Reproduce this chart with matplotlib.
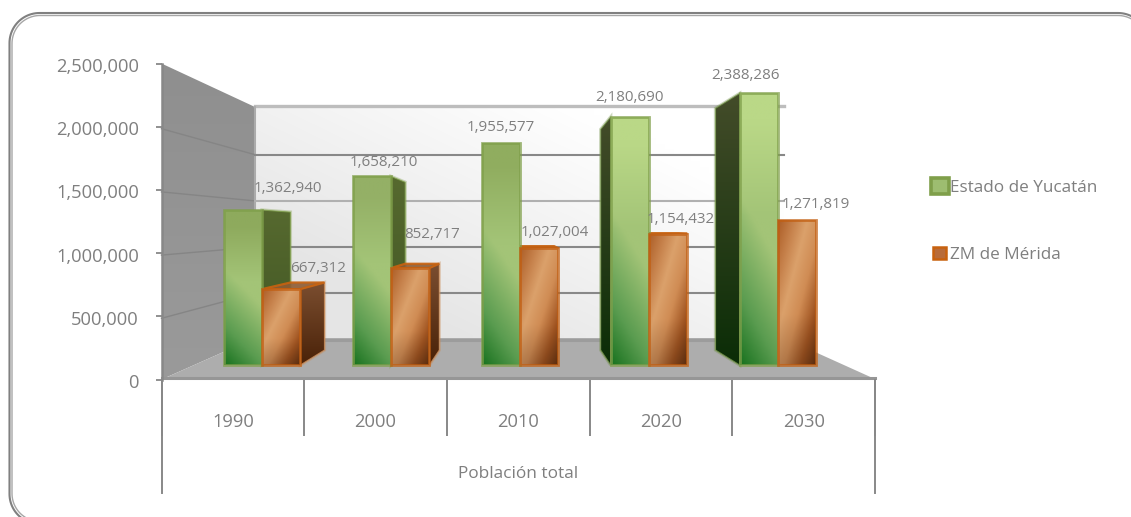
import numpy as np
import matplotlib
matplotlib.use("Agg")
import matplotlib.pyplot as plt
from matplotlib.colors import LinearSegmentedColormap as LSC, to_rgb
from matplotlib.legend_handler import HandlerPatch
from matplotlib.lines import Line2D
from matplotlib.patches import Patch, Polygon, Rectangle
from matplotlib.ticker import FuncFormatter
from matplotlib.transforms import Affine2D

# ---------- data ----------
years = ["1990", "2000", "2010", "2020", "2030"]
group_label = "Población total"
yucatan = [1362940, 1658210, 1955577, 2180690, 2388286]
merida = [667312, 852717, 1027004, 1154432, 1271819]
series_names = ["Estado de Yucatán", "ZM de Mérida"]
axis_ticks = [0, 500000, 1000000, 1500000, 2000000, 2500000]

# ---------- layout (image pixels) ----------
W, H = 1131, 517
plt.rcParams["font.family"] = ["Open Sans", "DejaVu Sans"]
TXT = "#7f7f7f"
GRID = "#888888"
PX0, PX_STEP = 262.0, 129.0       # x pixel of first category, category spacing
PY0, PY_SCALE = 365.0, 1.137e-4   # y pixel of value 0 on the bar plane, pixels per unit
BAR_W = 0.297
K = 0.11                          # depth of the bars toward the vanishing point
px = Affine2D().scale(1, -1).translate(0, H)


def X(p):
    return (p - PX0) / PX_STEP


def Y(p):
    return (PY0 - p) / PY_SCALE


VX, VY = X(520), Y(229)


def back(x, y):
    return x + K * (VX - x), y + K * (VY - y)


fig = plt.figure(figsize=(W / 100, H / 100), dpi=100, facecolor="white")
ax = fig.add_axes([0, 0, 1, 1])
ax.set_axis_off()


def fill_grad(verts, image, z):
    """Paint an RGB image over the polygon verts given in data coordinates."""
    xs, ys = zip(*verts)
    im = ax.imshow(image, extent=(min(xs), max(xs), min(ys), max(ys)), origin="upper",
                   aspect="auto", interpolation="bilinear", zorder=z)
    im.set_clip_path(Polygon(verts, closed=True, transform=ax.transData))


def vgrad(top, bottom):
    a, b = np.array(to_rgb(top)), np.array(to_rgb(bottom))
    t = np.linspace(0, 1, 40)[:, None, None]
    return a * (1 - t) + b * t


def frame_line(x0, y0, x1, y1, r):
    """Open outline of the rounded chart frame: bottom-left, top-left, top-right corners."""
    t = np.linspace(0, np.pi / 2, 24)
    xs = np.r_[x0 + r - r * np.sin(t)[::-1] * 0 - r * np.cos(t)[::-1] * 0 + 0 * t,
               ]
    bl_x = x0 + r - r * np.sin(t)
    bl_y = y1 - r + r * np.cos(t)
    tl_x = x0 + r - r * np.cos(t)
    tl_y = y0 + r - r * np.sin(t)
    tr_x = x1 - r + r * np.sin(t)
    tr_y = y0 + r - r * np.cos(t)
    return np.r_[bl_x, tl_x, tr_x], np.r_[bl_y, tl_y, tr_y]


# ---------- frame ----------
for (x0, y0, x1, y1, r, c, lw) in [(9.5, 13, 1148, 524, 30, "#808080", 1.5),
                                   (12, 15.5, 1146, 521.5, 28, "#a6a6a6", 1.0)]:
    fx, fy = frame_line(x0, y0, x1, y1, r)
    ax.add_line(Line2D(fx, fy, transform=px, color=c, lw=lw, zorder=1))

# ---------- walls and floor ----------
FL, FR, FB, FT = 161.5, 875, 379.5, 63.5   # front frame of the 3D box
BL, BR, BB, BT = 255, 784, 338, 107        # back wall
GRID_BASE, BACK_STEP = 339.5, 46.2         # back-wall pixel of 0, pixels per 500,000

fill_grad([(X(BL), Y(BT)), (X(BR), Y(BT)), (X(BR), Y(BB)), (X(BL), Y(BB))],
          (lambda u, v: (0.90 + 0.10 * np.clip(u * 0.9 + v * 0.8 - 0.35, 0, 1))[..., None].repeat(3, 2))(
              *np.meshgrid(np.linspace(0, 1, 60), np.linspace(1, 0, 40))), 2)
fill_grad([(X(FL), Y(FT)), (X(BL), Y(BT)), (X(BL), Y(BB)), (X(FL), Y(FB))],
          vgrad("#8f8f8f", "#9a9a9a"), 2)
ax.add_patch(Polygon([(X(FL), Y(FB)), (X(BL), Y(BB)), (X(BR), Y(BB)), (X(FR + 1), Y(FB))],
                     fc="#adadad", ec="none", zorder=2))
ax.add_line(Line2D([BL, BR], [BB + 1.5] * 2, transform=px, color="#9c9c9c", lw=2.2, zorder=2.2))
ax.add_line(Line2D([BL, BR], [BT - 1] * 2, transform=px, color="#bdbdbd", lw=2.4, zorder=2.2))
ax.add_line(Line2D([BL, BL], [BT, BB], transform=px, color="#ababab", lw=1.5, zorder=2.2))
ax.add_line(Line2D([FL, FR], [FB - 2] * 2, transform=px, color="#969696", lw=2.2, zorder=2.2))

for tick in axis_ticks[1:-1]:
    yb = GRID_BASE - tick / 500000 * BACK_STEP
    yf = FB - tick / axis_ticks[-1] * (FB - FT)
    ax.add_line(Line2D([FL, BL], [yf + 2, yb], transform=px, color="#858585", lw=1.0, zorder=2.3))
    shade = "#b0b0b0" if tick == 1500000 else GRID
    ax.add_line(Line2D([BL, BR], [yb, yb], transform=px, color=shade, lw=1.5, zorder=2.3))

# ---------- bars ----------
green_cm = LSC.from_list("g", [(0, "#1a7320"), (0.22, "#5a9c50"), (0.55, "#a3c477"), (1, "#a3c477")])
orange_cm = LSC.from_list("o", [(0, "#ad5f28"), (0.2, "#c6814b"), (0.38, "#dba16b"),
                                (0.58, "#d08c54"), (0.8, "#a05421"), (1, "#6a3411")])
green_tops = ["#8eaa5d", "#94b066", "#90ad5f", "#bad887", "#bad887"]


def green_image(top):
    u, v = np.meshgrid(np.linspace(0, 1, 30), np.linspace(1, 0, 90))
    img = green_cm(np.clip(0.88 * v + 0.22 * u, 0, 1))[..., :3]
    w = np.clip((v - 0.55) / 0.35, 0, 1)[..., None]
    return img * (1 - w) + np.array(to_rgb(top)) * w


def orange_image():
    u, v = np.meshgrid(np.linspace(0, 1, 30), np.linspace(1, 0, 90))
    img = orange_cm((u - v + 1) / 2)[..., :3]
    return img * (0.84 + 0.16 * np.clip(v / 0.35, 0, 1))[..., None]


def side(x, v, top, bottom, edge, z):
    xb, tb = back(x, v)
    xb0, bb = back(x, 0)
    verts = [(x, v), (xb, tb), (xb0, bb), (x, 0)]
    ax.add_patch(Polygon(verts, fc="none", ec=edge, lw=2.4, alpha=0.35, zorder=z - 0.01))
    fill_grad(verts, vgrad(top, bottom), z)
    ax.add_patch(Polygon(verts, fc="none", ec=edge, lw=0.8, alpha=0.8, zorder=z + 0.01))


def top_face(xl, xr, v, color, edge, z):
    verts = [(xl, v), (xr, v), back(xr, v), back(xl, v)]
    ax.add_patch(Polygon(verts, fc=color, ec=edge, lw=1.6, alpha=0.9, zorder=z))


for i, (vg, vo) in enumerate(zip(yucatan, merida)):
    gl, mid, or_ = i - BAR_W, float(i), i + BAR_W
    if mid < VX:
        side(mid, vg, "#56692f", "#3f5522", "#7f9f4a", 3)
    if gl > VX:
        side(gl, vg, "#434c29", "#0b2d07", "#6f8f45", 3)
    if or_ < VX:
        side(or_, vo, "#7b4e30", "#4a2208", "#c98a55", 3.2)
    if vo < VY:
        top_face(mid, or_, vo, "#8e5c33", "#c8620f", 3.3)
    for (l, r, v, img, edge, z) in [(gl, mid, vg, green_image(green_tops[i]), "#7f9f4a", 4),
                                    (mid, or_, vo, orange_image(), "#c25e10", 4.2)]:
        fill_grad([(l, 0), (r, 0), (r, v), (l, v)], img, z)
        ax.add_patch(Rectangle((l, 0), r - l, v, fc="none", ec=edge, lw=2.0, alpha=0.75,
                               zorder=z + 0.05))

# ---------- data labels ----------
green_offsets = [(45, 22), (12, 14), (0, 15), (0, 20), (-13, 18)]
orange_offsets = [(37, 21), (22, 34), (16, 16), (13, 14), (19, 16)]
for i in range(len(years)):
    for v, x, off in [(yucatan[i], i - BAR_W / 2, green_offsets[i]),
                      (merida[i], i + BAR_W / 2, orange_offsets[i])]:
        ax.annotate(f"{v:,}", (x, v), xytext=off, textcoords="offset pixels", ha="center",
                    va="center", fontsize=10.9, color=TXT, zorder=6)


# ---------- legend ----------
def small_key(legend, orig_handle, xdescent, ydescent, width, height, fontsize):
    return Rectangle((-xdescent + 1.5, -ydescent + 1.5), width - 4, height - 3)


handles = [Patch(fc="#9dbd70", ec="#7f9f4a", lw=2.6),
           Patch(fc="#b86c3a", ec="#c8620f", lw=1.8)]
ax.legend(handles, series_names, loc="upper left", bbox_to_anchor=(930.5, 178),
          bbox_transform=px, frameon=False, fontsize=12.3, labelcolor=TXT, borderpad=0,
          borderaxespad=0, handlelength=1.1, handleheight=1.1, handletextpad=0.05,
          labelspacing=2.85, handler_map={handles[1]: HandlerPatch(patch_func=small_key)})

ax.set_xlim(X(0), X(W))
ax.set_ylim(Y(H), Y(0))

# ---------- real axes for ticks and category labels ----------
ay = fig.add_axes([FL / W, 1 - FB / H, (FR - FL) / W, (FB - FT) / H], zorder=3)
ay.patch.set_visible(False)
ay.set_ylim(axis_ticks[0], axis_ticks[-1])
ay.set_xlim(0, len(years))
ay.set_yticks(axis_ticks)
ay.yaxis.set_major_formatter(FuncFormatter(lambda v, _: f"{int(v):,}"))
ay.tick_params(axis="y", length=4.3, width=1.3, color=GRID, labelcolor=TXT, labelsize=13.2, pad=12)
ay.set_xticks(np.arange(len(years)) + 0.5)
ay.set_xticklabels(years)
ay.set_xticks(np.arange(len(years) + 1), minor=True)
ay.tick_params(axis="x", which="major", length=0, labelcolor=TXT, labelsize=13.2, pad=24)
ay.tick_params(axis="x", which="minor", length=40, width=1.4, color=GRID)
for s in ("top", "right", "bottom"):
    ay.spines[s].set_visible(False)
ay.spines["left"].set_color(GRID)
ay.spines["left"].set_linewidth(1.8)
for lab in ay.get_yticklabels():
    lab.set_transform(lab.get_transform() + Affine2D().translate(0, -1.5))

for xp in (FL, FR):
    fig.add_artist(Line2D([xp, xp], [FB, 493], transform=px, color=GRID, lw=1.4))
fig.text(518 / W, 1 - 474 / H, group_label, ha="center", va="center", fontsize=12.4, color=TXT)

fig.savefig("out.png", dpi=100)
